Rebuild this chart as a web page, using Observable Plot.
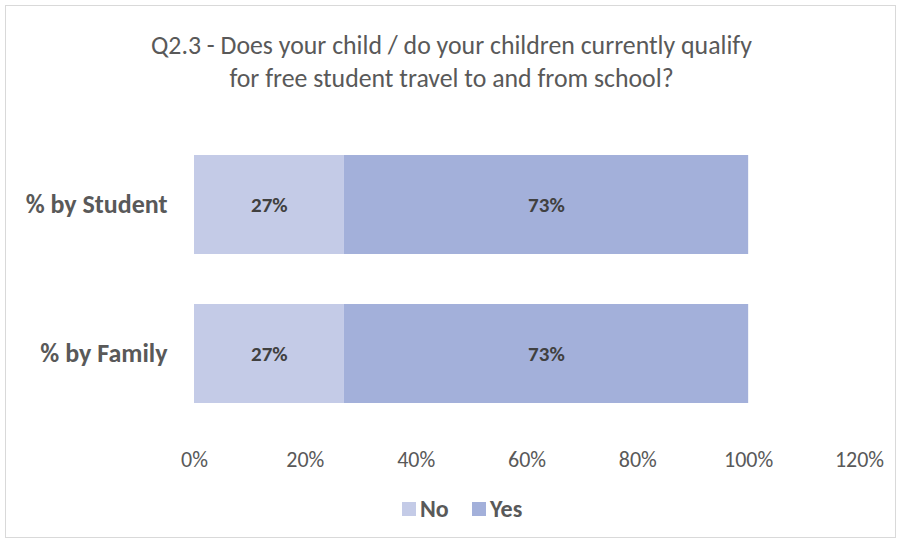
<!DOCTYPE html>
<html>
<head>
<meta charset="utf-8">
<script src="https://cdn.jsdelivr.net/npm/d3@7"></script>
<script src="https://cdn.jsdelivr.net/npm/@observablehq/plot@0.6"></script>
<style>
  html, body { margin: 0; padding: 0; background: #fff; }
  #frame { position: relative; width: 900px; height: 544px; overflow: hidden; font-family: Carlito, Lato, "Open Sans", sans-serif; }
  #border { position: absolute; left: 5px; top: 5px; width: 891px; height: 533px; border: 1px solid #d9d9d9; box-sizing: border-box; }
  #title { position: absolute; left: 0; top: 29px; width: 903px; text-align: center; color: #595959; font-size: 25.8px; line-height: 33px; }
  #chart { position: absolute; left: 0; top: 110px; }
  #legend { position: absolute; left: 0; top: 495px; width: 900px; height: 28px; color: #595959; font-size: 24px; font-weight: bold; }
  #legend .sw { position: absolute; top: 7px; width: 14px; height: 14px; }
  #legend .lab { position: absolute; top: 0; line-height: 28px; }
</style>
</head>
<body>
<div id="frame">
  <div id="border"></div>
  <div id="title">Q2.3 - Does your child / do your children currently qualify<br>for free student travel to and from school?</div>
  <div id="chart"></div>
  <div id="legend"></div>
</div>
<script>
const categories = ["% by Student", "% by Family"];
const answers = ["No", "Yes"];
const noValues = [27, 27];
const yesValues = [73, 73];
const xTicks = [0, 20, 40, 60, 80, 100, 120];
const colors = ["#c4cbe7", "#a3b0da"];

const rows = [];
categories.forEach((c, i) => {
  rows.push({category: c, answer: "No", value: noValues[i]});
  rows.push({category: c, answer: "Yes", value: yesValues[i]});
});

const plot = Plot.plot({
  width: 900,
  height: 370,
  marginLeft: 194,
  marginRight: 41,
  marginTop: 20,
  marginBottom: 52,
  style: {fontFamily: "Carlito, Lato, 'Open Sans', sans-serif", background: "transparent"},
  x: {domain: [0, 120]},
  y: {domain: categories, paddingInner: 0.335, paddingOuter: 0.1675},
  color: {domain: answers, range: colors},
  marks: [
    Plot.barX(rows, {x: "value", y: "category", fill: "answer"}),
    Plot.text(rows, Plot.stackX({x: "value", y: "category", text: d => d.value + "%", fill: "#404040", fontWeight: "bold", fontSize: 21})),
    Plot.axisX({ticks: xTicks, tickFormat: d => d + "%", tickSize: 0, tickPadding: 23, fontSize: 22, color: "#595959", label: null}),
    Plot.axisY({tickSize: 0, tickPadding: 27, fontSize: 26, fontWeight: "bold", color: "#595959", label: null})
  ]
});
document.getElementById("chart").appendChild(plot);

const legend = document.getElementById("legend");
const swX = [402, 472];
const labX = [420, 490];
answers.forEach((a, i) => {
  const sw = document.createElement("div");
  sw.className = "sw";
  sw.style.left = swX[i] + "px";
  sw.style.background = colors[i];
  legend.appendChild(sw);
  const lab = document.createElement("div");
  lab.className = "lab";
  lab.style.left = labX[i] + "px";
  lab.textContent = a;
  legend.appendChild(lab);
});
</script>
</body>
</html>
